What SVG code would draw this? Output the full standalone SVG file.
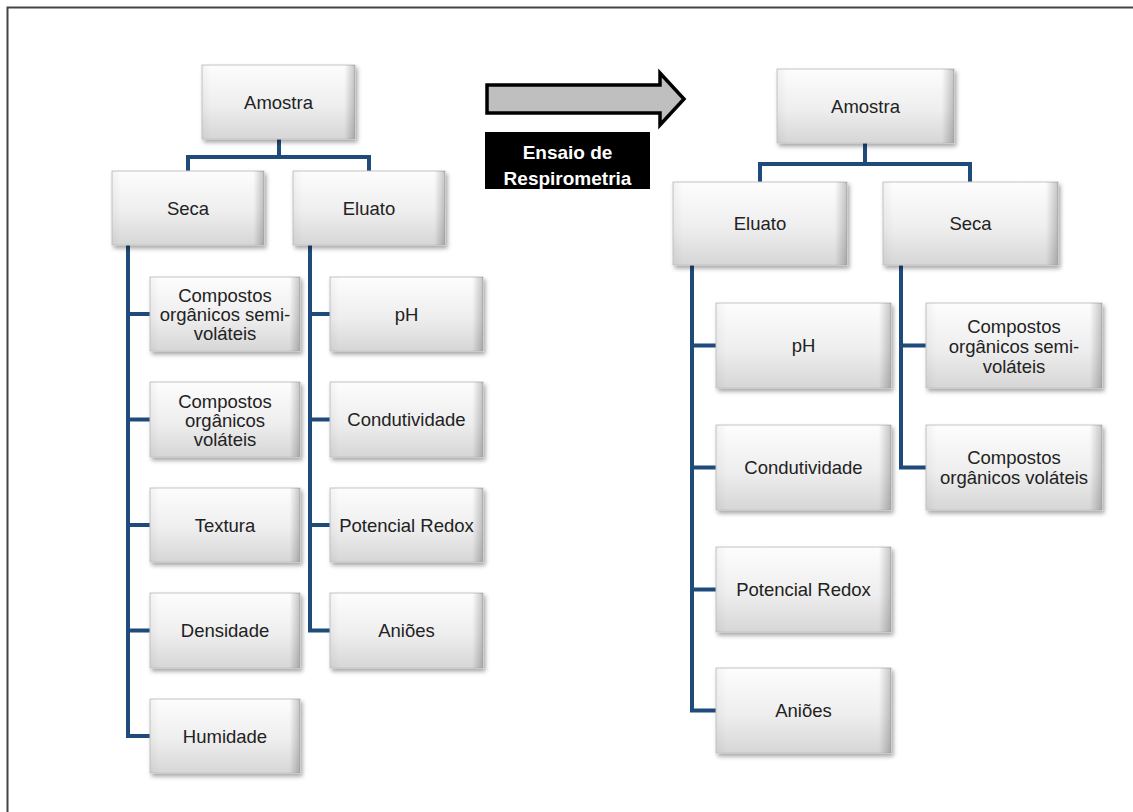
<svg xmlns="http://www.w3.org/2000/svg" width="1133" height="812" viewBox="0 0 1133 812">
<defs>
<linearGradient id="gv" x1="0" y1="0" x2="0" y2="1">
<stop offset="0" stop-color="#fdfdfd"/>
<stop offset="0.55" stop-color="#eeeeee"/>
<stop offset="1" stop-color="#d6d6d6"/>
</linearGradient>
<linearGradient id="gh" x1="0" y1="0" x2="1" y2="0">
<stop offset="0" stop-color="#000" stop-opacity="0.04"/>
<stop offset="0.06" stop-color="#000" stop-opacity="0"/>
<stop offset="0.93" stop-color="#000" stop-opacity="0"/>
<stop offset="1" stop-color="#000" stop-opacity="0.22"/>
</linearGradient>
<filter id="sh" x="-10%" y="-10%" width="125%" height="135%">
<feDropShadow dx="2" dy="3" stdDeviation="2" flood-color="#000" flood-opacity="0.35"/>
</filter>
</defs>
<style>
.box{fill:url(#gv);stroke:#c6c6c6;stroke-width:1;filter:url(#sh)}
.edge{fill:url(#gh)}
.t{font-family:"Liberation Sans",Arial,sans-serif;font-size:18.5px;fill:#222;text-anchor:middle}
.w{font-family:"Liberation Sans",Arial,sans-serif;font-size:19px;font-weight:bold;fill:#fff;text-anchor:middle}
.c{fill:none;stroke:#1f4b7a;stroke-width:4;stroke-linejoin:miter}
</style>
<rect x="0" y="0" width="1133" height="812" fill="#fff"/>
<rect x="7.5" y="7.5" width="1140" height="820" fill="none" stroke="#444" stroke-width="2"/>

<g id="connectors">
<path class="c" d="M279,139 V157 M188,171 V157 H369 V171"/>
<path class="c" d="M128,245 V736 H150 M128,314 H150 M128,419.5 H150 M128,525 H150 M128,630.5 H150"/>
<path class="c" d="M310,245 V630.5 H330 M310,314 H330 M310,419.5 H330 M310,525 H330"/>
<path class="c" d="M865,143 V164 M760,182 V164 H970 V182"/>
<path class="c" d="M692,265 V710.5 H716 M692,345.5 H716 M692,467.5 H716 M692,589.5 H716"/>
<path class="c" d="M901,265 V467.5 H926 M901,345.5 H926"/>
</g>

<g id="arrow">
<polygon points="487,85 660,85 660,73 684,99 660,125 660,113 487,113" fill="#bfbfbf" stroke="#000" stroke-width="3.5" stroke-linejoin="miter"/>
</g>
<g id="ensaio">
<rect x="485" y="132" width="165" height="57" fill="#000"/>
<text class="w" x="567.5" y="159">Ensaio de</text>
<text class="w" x="567.5" y="185">Respirometria</text>
</g>

<!-- Left tree -->
<g id="l-amostra"><rect class="box" x="202" y="65" width="153" height="74"/><rect class="edge" x="202" y="65" width="153" height="74"/><text class="t" x="278.5" y="108.5">Amostra</text></g>
<g id="l-seca"><rect class="box" x="112" y="171" width="152" height="74"/><rect class="edge" x="112" y="171" width="152" height="74"/><text class="t" x="188" y="214.5">Seca</text></g>
<g id="l-eluato"><rect class="box" x="293" y="171" width="152" height="74"/><rect class="edge" x="293" y="171" width="152" height="74"/><text class="t" x="369" y="214.5">Eluato</text></g>

<g id="l-semi"><rect class="box" x="150" y="277" width="150" height="74"/><rect class="edge" x="150" y="277" width="150" height="74"/><text class="t" x="225" y="301.5">Compostos</text><text class="t" x="225" y="320.5">orgânicos semi-</text><text class="t" x="225" y="339.5">voláteis</text></g>
<g id="l-volateis"><rect class="box" x="150" y="382" width="150" height="75"/><rect class="edge" x="150" y="382" width="150" height="75"/><text class="t" x="225" y="407.5">Compostos</text><text class="t" x="225" y="426.5">orgânicos</text><text class="t" x="225" y="445.5">voláteis</text></g>
<g id="l-textura"><rect class="box" x="150" y="488" width="150" height="74"/><rect class="edge" x="150" y="488" width="150" height="74"/><text class="t" x="225" y="531.5">Textura</text></g>
<g id="l-densidade"><rect class="box" x="150" y="593" width="150" height="75"/><rect class="edge" x="150" y="593" width="150" height="75"/><text class="t" x="225" y="637">Densidade</text></g>
<g id="l-humidade"><rect class="box" x="150" y="699" width="150" height="74"/><rect class="edge" x="150" y="699" width="150" height="74"/><text class="t" x="225" y="742.5">Humidade</text></g>

<g id="l-ph"><rect class="box" x="330" y="277" width="153" height="74"/><rect class="edge" x="330" y="277" width="153" height="74"/><text class="t" x="406.5" y="320.5">pH</text></g>
<g id="l-condutividade"><rect class="box" x="330" y="382" width="153" height="75"/><rect class="edge" x="330" y="382" width="153" height="75"/><text class="t" x="406.5" y="426">Condutividade</text></g>
<g id="l-redox"><rect class="box" x="330" y="488" width="153" height="74"/><rect class="edge" x="330" y="488" width="153" height="74"/><text class="t" x="406.5" y="531.5">Potencial Redox</text></g>
<g id="l-anioes"><rect class="box" x="330" y="593" width="153" height="75"/><rect class="edge" x="330" y="593" width="153" height="75"/><text class="t" x="406.5" y="637">Aniões</text></g>

<!-- Right tree -->
<g id="r-amostra"><rect class="box" x="777" y="69" width="177" height="74"/><rect class="edge" x="777" y="69" width="177" height="74"/><text class="t" x="865.5" y="112.5">Amostra</text></g>
<g id="r-eluato"><rect class="box" x="673" y="182" width="174" height="83"/><rect class="edge" x="673" y="182" width="174" height="83"/><text class="t" x="760" y="230">Eluato</text></g>
<g id="r-seca"><rect class="box" x="883" y="182" width="175" height="83"/><rect class="edge" x="883" y="182" width="175" height="83"/><text class="t" x="970.5" y="230">Seca</text></g>

<g id="r-ph"><rect class="box" x="716" y="303" width="175" height="85"/><rect class="edge" x="716" y="303" width="175" height="85"/><text class="t" x="803.5" y="352">pH</text></g>
<g id="r-condutividade"><rect class="box" x="716" y="425" width="175" height="85"/><rect class="edge" x="716" y="425" width="175" height="85"/><text class="t" x="803.5" y="474">Condutividade</text></g>
<g id="r-redox"><rect class="box" x="716" y="547" width="175" height="85"/><rect class="edge" x="716" y="547" width="175" height="85"/><text class="t" x="803.5" y="596">Potencial Redox</text></g>
<g id="r-anioes"><rect class="box" x="716" y="668" width="175" height="85"/><rect class="edge" x="716" y="668" width="175" height="85"/><text class="t" x="803.5" y="717">Aniões</text></g>

<g id="r-semi"><rect class="box" x="926" y="303" width="176" height="85"/><rect class="edge" x="926" y="303" width="176" height="85"/><text class="t" x="1014" y="332.5">Compostos</text><text class="t" x="1014" y="352.5">orgânicos semi-</text><text class="t" x="1014" y="372.5">voláteis</text></g>
<g id="r-volateis"><rect class="box" x="926" y="425" width="176" height="85"/><rect class="edge" x="926" y="425" width="176" height="85"/><text class="t" x="1014" y="463.5">Compostos</text><text class="t" x="1014" y="483.5">orgânicos voláteis</text></g>
</svg>
